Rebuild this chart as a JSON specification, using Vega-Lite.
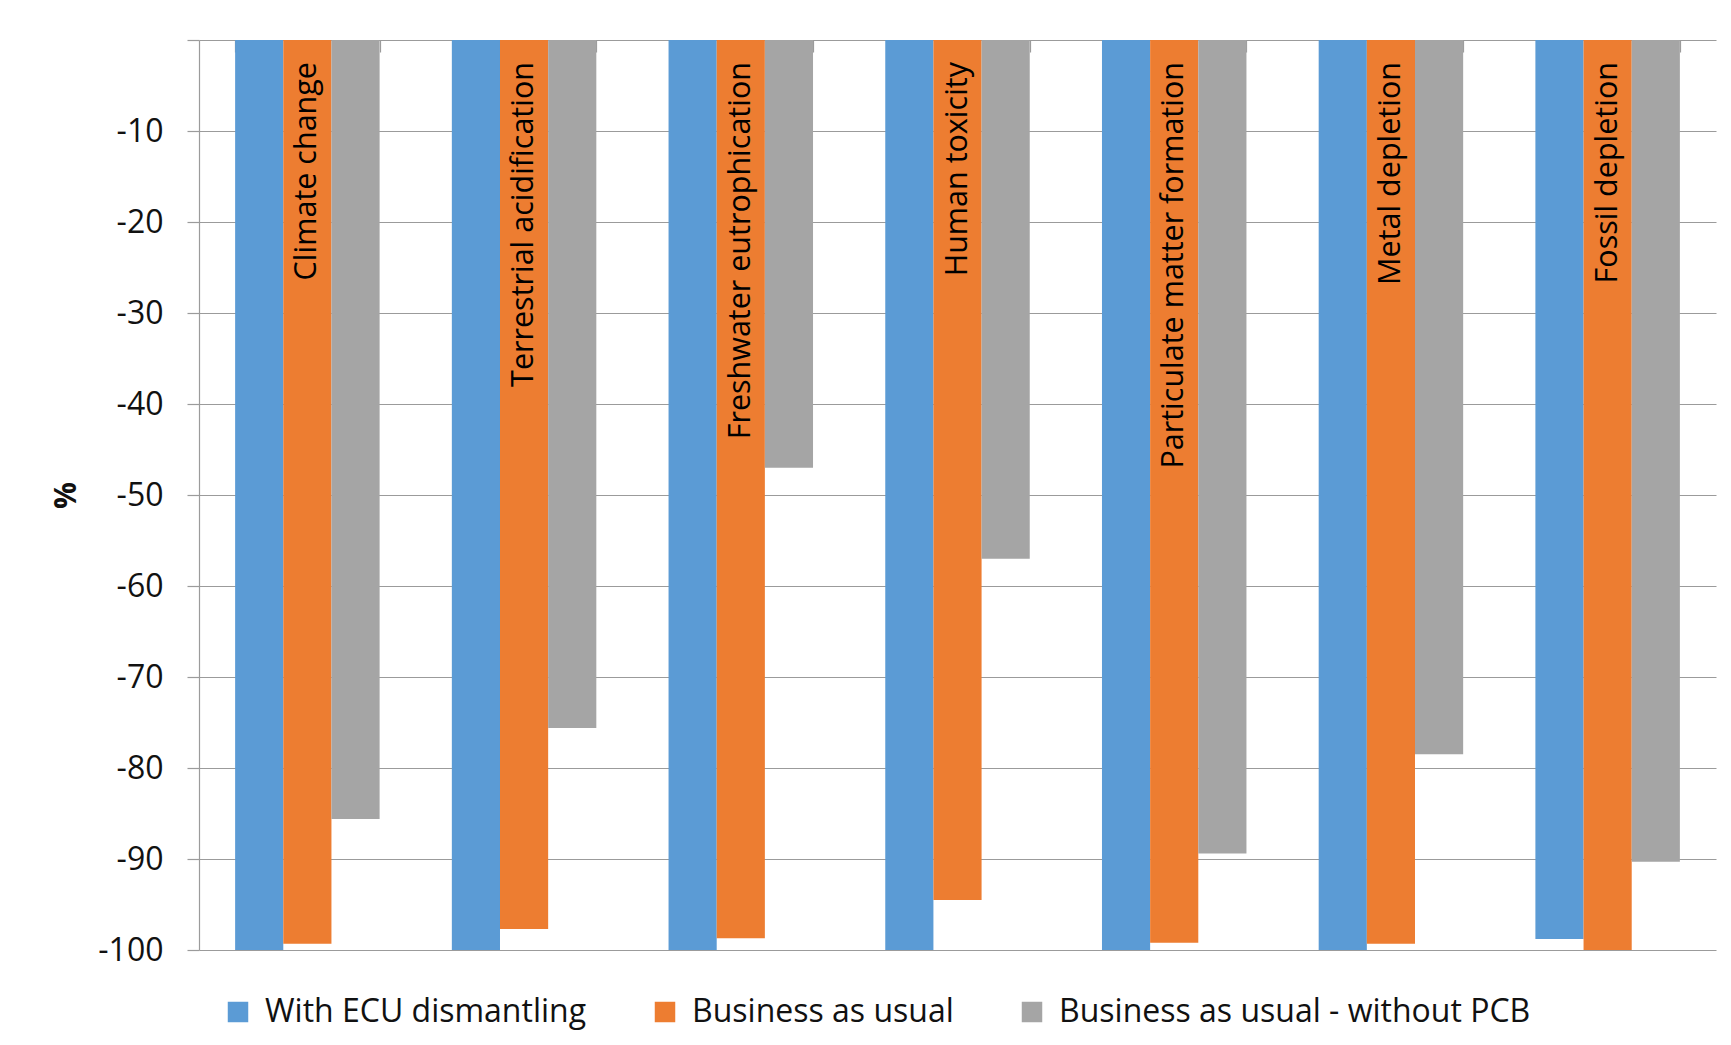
{
  "$schema": "https://vega.github.io/schema/vega-lite/v6.json",
  "width": 1517,
  "height": 910,
  "autosize": {"type": "none"},
  "padding": {"left": 199, "top": 40, "right": 15, "bottom": 95},
  "background": "white",
  "config": {
    "font": "Open Sans",
    "view": {"stroke": null},
    "axis": {"labelColor": "#111111", "titleColor": "#111111"},
    "legend": {"labelColor": "#111111"}
  },
  "data": {
    "values": [
      {"category": "Climate change", "scenario": "With ECU dismantling", "value": -100},
      {"category": "Climate change", "scenario": "Business as usual", "value": -99.3},
      {"category": "Climate change", "scenario": "Business as usual - without PCB", "value": -85.6},
      {"category": "Terrestrial acidification", "scenario": "With ECU dismantling", "value": -100},
      {"category": "Terrestrial acidification", "scenario": "Business as usual", "value": -97.7},
      {"category": "Terrestrial acidification", "scenario": "Business as usual - without PCB", "value": -75.6},
      {"category": "Freshwater eutrophication", "scenario": "With ECU dismantling", "value": -100},
      {"category": "Freshwater eutrophication", "scenario": "Business as usual", "value": -98.7},
      {"category": "Freshwater eutrophication", "scenario": "Business as usual - without PCB", "value": -47.0},
      {"category": "Human toxicity", "scenario": "With ECU dismantling", "value": -100},
      {"category": "Human toxicity", "scenario": "Business as usual", "value": -94.5},
      {"category": "Human toxicity", "scenario": "Business as usual - without PCB", "value": -57.0},
      {"category": "Particulate matter formation", "scenario": "With ECU dismantling", "value": -100},
      {"category": "Particulate matter formation", "scenario": "Business as usual", "value": -99.2},
      {"category": "Particulate matter formation", "scenario": "Business as usual - without PCB", "value": -89.4},
      {"category": "Metal depletion", "scenario": "With ECU dismantling", "value": -100},
      {"category": "Metal depletion", "scenario": "Business as usual", "value": -99.3},
      {"category": "Metal depletion", "scenario": "Business as usual - without PCB", "value": -78.5},
      {"category": "Fossil depletion", "scenario": "With ECU dismantling", "value": -98.8},
      {"category": "Fossil depletion", "scenario": "Business as usual", "value": -100},
      {"category": "Fossil depletion", "scenario": "Business as usual - without PCB", "value": -90.3}
    ]
  },
  "encoding": {
    "x": {
      "field": "category",
      "type": "nominal",
      "sort": null,
      "scale": {"paddingInner": 0.3333, "paddingOuter": 0.1667},
      "axis": {
        "orient": "top",
        "title": null,
        "labels": false,
        "domain": false,
        "grid": false,
        "ticks": true,
        "tickBand": "extent",
        "tickSize": -12,
        "tickColor": "#9b9b9b",
        "tickWidth": 1.2
      }
    },
    "xOffset": {
      "field": "scenario",
      "type": "nominal",
      "scale": {
        "domain": ["With ECU dismantling", "Business as usual", "Business as usual - without PCB"],
        "paddingInner": 0,
        "paddingOuter": 0
      }
    }
  },
  "layer": [
    {
      "mark": {"type": "bar"},
      "encoding": {
        "y": {
          "field": "value",
          "type": "quantitative",
          "scale": {"domain": [-100, 0], "nice": false},
          "axis": {
            "values": [-100, -90, -80, -70, -60, -50, -40, -30, -20, -10, 0],
            "labelExpr": "datum.value === 0 ? '' : '' + datum.value",
            "labelFontSize": 32,
            "labelPadding": 24,
            "tickSize": 12,
            "tickColor": "#9b9b9b",
            "tickWidth": 1.2,
            "domainColor": "#9b9b9b",
            "domainWidth": 1.2,
            "grid": true,
            "gridColor": "#9b9b9b",
            "gridWidth": 1.2,
            "title": "%",
            "titleFontSize": 30,
            "titleFontWeight": "bold",
            "titleAngle": 270,
            "titleX": -133,
            "titleY": 455,
            "titleAlign": "center",
            "titleBaseline": "middle"
          }
        },
        "color": {
          "field": "scenario",
          "type": "nominal",
          "scale": {
            "domain": ["With ECU dismantling", "Business as usual", "Business as usual - without PCB"],
            "range": ["#5B9BD5", "#ED7D31", "#A5A5A5"]
          },
          "legend": {
            "title": null,
            "orient": "none",
            "direction": "horizontal",
            "legendX": 23,
            "legendY": 956,
            "padding": 0,
            "symbolType": "square",
            "symbolSize": 420,
            "symbolStrokeWidth": 0,
            "labelFontSize": 32,
            "labelOffset": 11,
            "columnPadding": 62,
            "labelLimit": 800
          }
        }
      }
    },
    {
      "transform": [{"filter": "datum.scenario === 'Business as usual'"}],
      "mark": {
        "type": "text",
        "angle": 270,
        "align": "right",
        "baseline": "middle",
        "dx": -22,
        "fontSize": 30.5,
        "color": "#000000"
      },
      "encoding": {
        "y": {"datum": 0, "type": "quantitative"},
        "text": {"field": "category"}
      }
    }
  ]
}
